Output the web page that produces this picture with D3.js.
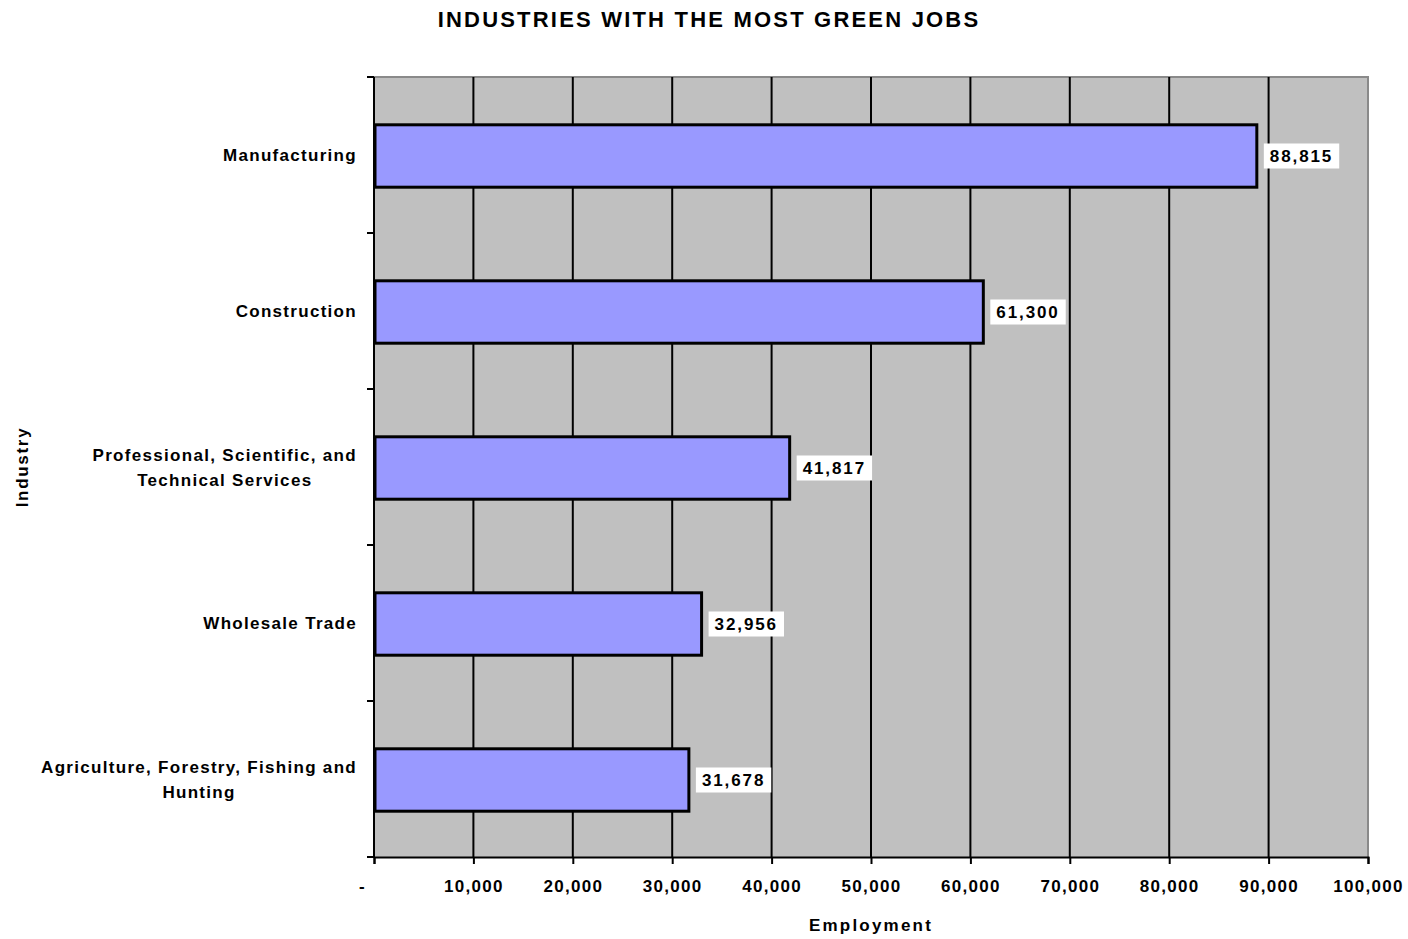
<!DOCTYPE html>
<html>
<head>
<meta charset="utf-8">
<script src="https://cdn.jsdelivr.net/npm/d3@7"></script>
<style>
  html, body { margin: 0; padding: 0; background: #ffffff; }
  svg { display: block; }
  text { font-family: "Liberation Sans", Arial, sans-serif; font-weight: bold; fill: #000; }
</style>
</head>
<body>
<svg id="chart" width="1408" height="939"></svg>
<script>
// ---- data ----
const categories = [
  "Manufacturing",
  "Construction",
  "Professional, Scientific, and|Technical Services",
  "Wholesale Trade",
  "Agriculture, Forestry, Fishing and|Hunting"
];
const values = [88815, 61300, 41817, 32956, 31678];
const xTicks = [0, 10000, 20000, 30000, 40000, 50000, 60000, 70000, 80000, 90000, 100000];
const titleText = "INDUSTRIES WITH THE MOST GREEN JOBS";
const xTitle = "Employment";
const yTitle = "Industry";

// ---- layout ----
const svg = d3.select("#chart");
const plot = { left: 374, right: 1368, top: 77, bottom: 857 };

const x = d3.scaleLinear().domain([0, 100000]).range([plot.left, plot.right]);
const y = d3.scaleBand().domain(categories).range([plot.top, plot.bottom])
  .paddingInner(0.6).paddingOuter(0.3);
const yOuter = d3.scaleBand().domain(categories).range([plot.top, plot.bottom]);

const fmt = d => d === 0 ? "-" : d3.format(",")(d);

// background
svg.append("rect")
  .attr("x", plot.left).attr("y", plot.top)
  .attr("width", plot.right - plot.left).attr("height", plot.bottom - plot.top)
  .attr("fill", "#c0c0c0");

// top & right gray border
svg.append("path")
  .attr("d", `M${plot.left},${plot.top}H${plot.right}V${plot.bottom}`)
  .attr("fill", "none").attr("stroke", "#8a8a8a").attr("stroke-width", 2);

// vertical gridlines
svg.append("g").selectAll("line")
  .data(xTicks.filter(t => t > 0 && t < 100000))
  .join("line")
  .attr("x1", d => x(d)).attr("x2", d => x(d))
  .attr("y1", plot.top).attr("y2", plot.bottom)
  .attr("stroke", "#000").attr("stroke-width", 2);

// x axis
const xAxis = svg.append("g")
  .attr("transform", `translate(0,${plot.bottom})`)
  .call(d3.axisBottom(x).tickValues(xTicks).tickFormat(fmt).tickSize(7).tickPadding(16));
xAxis.select(".domain").attr("stroke", "#000").attr("stroke-width", 2);
xAxis.selectAll(".tick line").attr("stroke", "#000").attr("stroke-width", 2);
xAxis.selectAll(".tick text")
  .style("font-size", "17px").style("letter-spacing", "1.3px")
  .attr("dx", d => d === 0 ? -12 : 0);

// y axis (ticks at band boundaries)
const boundaries = categories.map(c => yOuter(c)).concat([plot.bottom]);
svg.append("line")
  .attr("x1", plot.left).attr("x2", plot.left)
  .attr("y1", plot.top).attr("y2", plot.bottom)
  .attr("stroke", "#000").attr("stroke-width", 2);
svg.append("g").selectAll("line")
  .data(boundaries)
  .join("line")
  .attr("x1", plot.left - 7).attr("x2", plot.left)
  .attr("y1", d => d).attr("y2", d => d)
  .attr("stroke", "#000").attr("stroke-width", 2);

// category labels
const catG = svg.append("g");
categories.forEach(c => {
  const lines = c.split("|");
  const cy = y(c) + y.bandwidth() / 2;
  const lh = 25;
  const t = catG.append("text")
    .attr("text-anchor", "end")
    .style("font-size", "17px").style("letter-spacing", "1.3px");
  lines.forEach((ln, i) => {
    t.append("tspan").attr("x", 357).attr("y", cy + 6 + (i - (lines.length - 1) / 2) * lh).text(ln);
  });
});
// centre the following lines relative to the first line
catG.selectAll("text").each(function() {
  const nodes = d3.select(this).selectAll("tspan").nodes();
  if (nodes.length > 1) {
    const w0 = nodes[0].getComputedTextLength();
    const centre = 357 - w0 / 2;
    nodes.forEach((n, i) => {
      if (i > 0) d3.select(n).attr("x", centre).attr("text-anchor", "middle");
    });
  }
});

// bars
svg.append("g").selectAll("rect")
  .data(categories)
  .join("rect")
  .attr("x", x(0) + 1)
  .attr("y", d => y(d) + 1)
  .attr("width", (d, i) => x(values[i]) - x(0) - 1)
  .attr("height", y.bandwidth())
  .attr("fill", "#9999ff")
  .attr("stroke", "#000").attr("stroke-width", 3);

// value labels
const lbl = svg.append("g").selectAll("g")
  .data(categories)
  .join("g")
  .attr("transform", (d, i) => `translate(${x(values[i]) + 7},${y(d) + y.bandwidth() / 2 + 1})`);
lbl.append("text")
  .attr("x", 6).attr("y", 6)
  .style("font-size", "17px").style("letter-spacing", "1.9px")
  .text((d, i) => d3.format(",")(values[i]));
lbl.each(function() {
  const g = d3.select(this);
  const w = g.select("text").node().getComputedTextLength();
  g.insert("rect", "text")
    .attr("x", 0).attr("y", -12.5)
    .attr("width", w + 12).attr("height", 25)
    .attr("fill", "#fff");
});

// titles
svg.append("text")
  .attr("x", 709).attr("y", 27).attr("text-anchor", "middle")
  .style("font-size", "22px").style("letter-spacing", "2.2px")
  .text(titleText);
svg.append("text")
  .attr("x", x(50000)).attr("y", 931).attr("text-anchor", "middle")
  .style("font-size", "17px").style("letter-spacing", "2.2px")
  .text(xTitle);
svg.append("text")
  .attr("transform", `translate(28,${(plot.top + plot.bottom) / 2}) rotate(-90)`)
  .attr("text-anchor", "middle")
  .style("font-size", "17px").style("letter-spacing", "1.7px")
  .text(yTitle);
</script>
</body>
</html>
